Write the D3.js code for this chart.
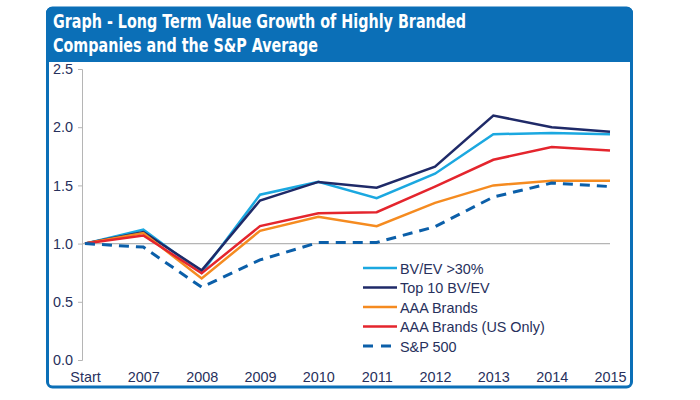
<!DOCTYPE html>
<html><head><meta charset="utf-8">
<script src="https://cdn.jsdelivr.net/npm/d3@7"></script>
<style>body{margin:0;background:#fff}svg{display:block}</style>
</head><body>
<svg id="c" width="700" height="400"></svg>
<script>
const categories = ["Start","2007","2008","2009","2010","2011","2012","2013","2014","2015"];
const bvev30   = [1.00,1.12,0.75,1.42,1.53,1.39,1.60,1.94,1.95,1.94];
const top10    = [1.00,1.10,0.77,1.37,1.53,1.48,1.66,2.10,2.00,1.96];
const aaa      = [1.00,1.09,0.70,1.11,1.23,1.15,1.35,1.50,1.54,1.54];
const aaaUS    = [1.00,1.07,0.745,1.15,1.26,1.27,1.49,1.72,1.83,1.80];
const sp500    = [1.00,0.97,0.625,0.86,1.01,1.01,1.145,1.40,1.52,1.49];
const seriesNames = ["BV/EV >30%","Top 10 BV/EV","AAA Brands","AAA Brands (US Only)","S&P 500"];
const yTicks = [0.0,0.5,1.0,1.5,2.0,2.5];
const titleLines = ["Graph - Long Term Value Growth of Highly Branded","Companies and the S&P Average"];
const titleWidths = [413, 265];

const series = [
  {name:seriesNames[0], values:bvev30, color:"#1ba8e0", dash:null, w:2.5},
  {name:seriesNames[1], values:top10,  color:"#1f2a68", dash:null, w:2.5},
  {name:seriesNames[2], values:aaa,    color:"#f58b20", dash:null, w:2.5},
  {name:seriesNames[3], values:aaaUS,  color:"#e4252d", dash:null, w:2.5},
  {name:seriesNames[4], values:sp500,  color:"#0b5fa9", dash:"10,7", w:3}
];

const svg = d3.select("#c");
const blue = "#0b6fb7";
svg.append("rect").attr("x",47.5).attr("y",8).attr("width",584).attr("height",379)
  .attr("rx",5).attr("fill","#fff").attr("stroke",blue).attr("stroke-width",3);
const hp = d3.path();
hp.moveTo(46,62); hp.lineTo(46,13); hp.arcTo(46,7,52,7,6); hp.lineTo(627,7); hp.arcTo(633,7,633,13,6); hp.lineTo(633,62); hp.closePath();
svg.append("path").attr("d",hp.toString()).attr("fill",blue);
svg.selectAll("text.title").data(titleLines).join("text").attr("class","title")
  .attr("x",53).attr("y",(d,i)=>28+i*24)
  .attr("fill","#fff").attr("font-family","'DejaVu Sans Condensed','Liberation Sans Narrow',sans-serif")
  .attr("font-weight","bold").attr("font-size",19.5)
  .attr("textLength",(d,i)=>titleWidths[i]).attr("lengthAdjust","spacingAndGlyphs").text(d=>d);

const x = d3.scalePoint().domain(categories).range([85,610]);
const y = d3.scaleLinear().domain([0,2.5]).range([360,69]);

const txtColor = "#27305c";
const font = "'Liberation Sans',Arial,sans-serif";
const fs = 14.4;

const yAxis = svg.append("g").attr("transform","translate(82,0)")
  .call(d3.axisLeft(y).tickValues(yTicks).tickFormat(d3.format(".1f")).tickSize(4).tickPadding(5));
yAxis.select(".domain").attr("stroke","#b5b5b5");
yAxis.selectAll(".tick line").attr("stroke","#b5b5b5");
yAxis.selectAll(".tick text").attr("fill",txtColor).attr("font-family",font).attr("font-size",fs);

svg.append("line").attr("x1",82).attr("x2",610).attr("y1",y(1)).attr("y2",y(1))
  .attr("stroke","#b5b5b5").attr("stroke-width",1.2);

const xAxis = svg.append("g").attr("transform","translate(0,360)")
  .call(d3.axisBottom(x).tickSize(0).tickPadding(12));
xAxis.select(".domain").remove();
xAxis.selectAll(".tick text").attr("fill",txtColor).attr("font-family",font).attr("font-size",fs);

const line = d3.line().x((d,i)=>x(categories[i])).y(d=>y(d));
svg.selectAll("path.series").data(series).join("path").attr("class","series")
  .attr("d",d=>line(d.values)).attr("fill","none").attr("stroke",d=>d.color)
  .attr("stroke-width",d=>d.w).attr("stroke-dasharray",d=>d.dash).attr("stroke-linejoin","miter");

const lg = svg.append("g").selectAll("g").data(series).join("g")
  .attr("transform",(d,i)=>`translate(363,${268+i*19.5})`);
lg.append("line").attr("x1",0).attr("x2",34).attr("stroke",d=>d.color)
  .attr("stroke-width",d=>d.dash?3:2.5).attr("stroke-dasharray",d=>d.dash?"10,8":null);
lg.append("text").attr("x",37).attr("y",5.5).attr("fill",txtColor).attr("font-family",font)
  .attr("font-size",fs).text(d=>d.name);
</script>
</body></html>
